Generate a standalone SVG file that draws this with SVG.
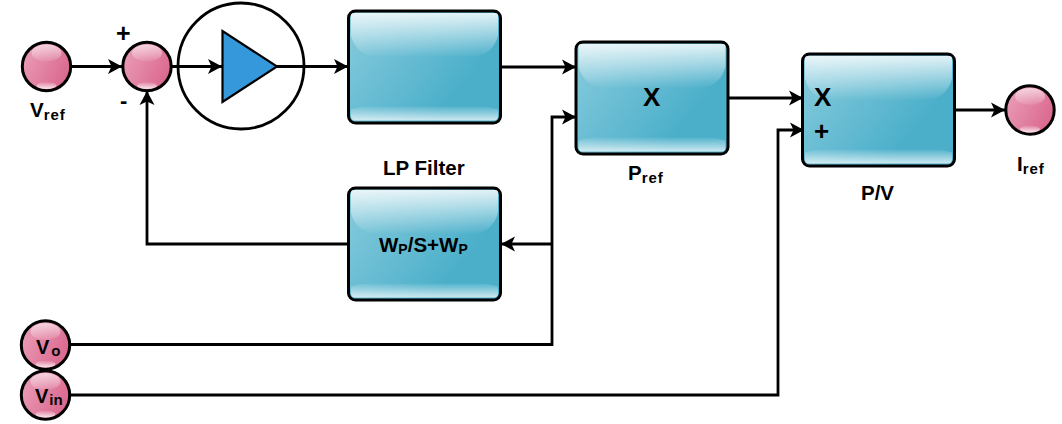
<svg xmlns="http://www.w3.org/2000/svg" width="1062" height="424" viewBox="0 0 1062 424">
<style>
text{font-family:"Liberation Sans",Arial,sans-serif;font-weight:bold;fill:#000}
.l{font-size:20.5px}.s{font-size:15px;letter-spacing:.9px}
.w{fill:none;stroke:#000;stroke-width:2.8}
.b{fill:url(#blue);stroke:#000;stroke-width:3}
.c{fill:url(#pink);stroke:#000;stroke-width:3}
.gt{fill:url(#glossT)}.gb{fill:url(#glossB)}
.pt{fill:url(#pglossT)}.pb{fill:url(#pglossB)}
</style>
<defs>
<linearGradient id="blue" x1="0" y1="0" x2="1" y2="0.6"><stop offset="0" stop-color="#8accdd"/><stop offset="0.85" stop-color="#4bafca"/><stop offset="1" stop-color="#4bafca"/></linearGradient>
<linearGradient id="glossT" x1="0" y1="0" x2="0" y2="1"><stop offset="0" stop-color="#fff" stop-opacity=".82"/><stop offset="1" stop-color="#fff" stop-opacity=".02"/></linearGradient>
<linearGradient id="glossB" x1="0" y1="0" x2="0" y2="1"><stop offset="0" stop-color="#fff" stop-opacity=".05"/><stop offset="1" stop-color="#fff" stop-opacity=".72"/></linearGradient>
<linearGradient id="pink" x1="0" y1="0" x2="1" y2="0.5"><stop offset="0" stop-color="#eba2ba"/><stop offset="1" stop-color="#db6a90"/></linearGradient>
<linearGradient id="pglossT" x1="0" y1="0" x2="0" y2="1"><stop offset="0" stop-color="#fff" stop-opacity=".62"/><stop offset="1" stop-color="#fff" stop-opacity=".08"/></linearGradient>
<linearGradient id="pglossB" x1="0" y1="0" x2="0" y2="1"><stop offset="0" stop-color="#fff" stop-opacity=".05"/><stop offset="1" stop-color="#fff" stop-opacity=".85"/></linearGradient>
<marker id="ah" markerUnits="userSpaceOnUse" markerWidth="18" markerHeight="18" viewBox="0 0 18 18" refX="15" refY="9" orient="auto"><path d="M15 9L1 1.500L4.500 9L1 16.500Z" fill="#000"/></marker>
<g id="box"><rect x="1" y="1.500" width="152" height="112" rx="7" class="b"/><path d="M3.500 6Q3.500 3.500 6 3.500H148Q150.500 3.500 150.500 6V26C148 38 138 47 126 47H28C16 47 6 38 3.500 26Z" class="gt"/><path d="M3.500 100Q12 97 20 97H134Q142 97 150.500 100V107Q150.500 111 146 111H8Q3.500 111 3.500 107Z" class="gb"/></g>
<g id="ball"><circle r="24.200" class="c"/><ellipse cy="-13.500" rx="15" ry="8.500" class="pt"/><ellipse cy="19" rx="10" ry="3.600" class="pb"/></g>
</defs>
<g id="connectors">
<path d="M71 66.500H122" class="w" marker-end="url(#ah)"/>
<path d="M172 66.500H222" class="w" marker-end="url(#ah)"/>
<path d="M277 66.500H348" class="w" marker-end="url(#ah)"/>
<path d="M501 67H576" class="w" marker-end="url(#ah)"/>
<path d="M70 344.500H552V117H576" class="w" marker-end="url(#ah)"/>
<path d="M552 244H501" class="w" marker-end="url(#ah)"/>
<path d="M348 244H147V91" class="w" marker-end="url(#ah)"/>
<path d="M729 98H803" class="w" marker-end="url(#ah)"/>
<path d="M70 395H778V130H804" class="w" marker-end="url(#ah)"/>
<path d="M955 110H1005" class="w" marker-end="url(#ah)"/>
</g>
<g id="vref"><use href="#ball" x="46.500" y="66.500"/><text x="30" y="117" class="l">V<tspan class="s" dy="3">ref</tspan></text></g>
<g id="sum"><use href="#ball" x="147" y="66.500"/><text x="116" y="42" style="font-size:25px">+</text><text x="120" y="108" style="font-size:22px">-</text></g>
<g id="gain"><circle cx="241" cy="66" r="63" fill="none" stroke="#000" stroke-width="2.800"/><path d="M222.500 31V102L277 66.500Z" fill="#3498db" stroke="#000" stroke-width="2.200" stroke-linejoin="miter"/></g>
<g id="block1"><use href="#box" x="347.500" y="9.500"/></g>
<g id="pref"><use href="#box" x="575" y="40.500"/><text x="643" y="106" style="font-size:26px">X</text><text x="628" y="180" class="l">P<tspan class="s" dy="3">ref</tspan></text></g>
<g id="pv"><use href="#box" x="801.500" y="52.500"/><text x="814" y="106" style="font-size:26px">X</text><text x="814" y="140" style="font-size:26px">+</text><text x="861" y="200" class="l">P/V</text></g>
<g id="lp"><use href="#box" x="347.500" y="186.500"/><text x="383" y="175" class="l">LP Filter</text><text x="379" y="252" class="l">W<tspan style="font-size:14px" dy="2">P</tspan><tspan dy="-2">/S+W</tspan><tspan style="font-size:14px" dy="2">P</tspan></text></g>
<g id="iref"><use href="#ball" x="1030" y="110"/><text x="1017" y="171" class="l">I<tspan class="s" dy="3">ref</tspan></text></g>
<g id="vo"><use href="#ball" x="45.500" y="345"/><text x="36" y="354" style="font-size:20px">V<tspan style="font-size:15px" dx="2" dy="2">o</tspan></text></g>
<g id="vin"><use href="#ball" x="45.500" y="395"/><text x="35" y="403" style="font-size:20px">V<tspan style="font-size:15px" dx="1" dy="2">in</tspan></text></g>
</svg>
